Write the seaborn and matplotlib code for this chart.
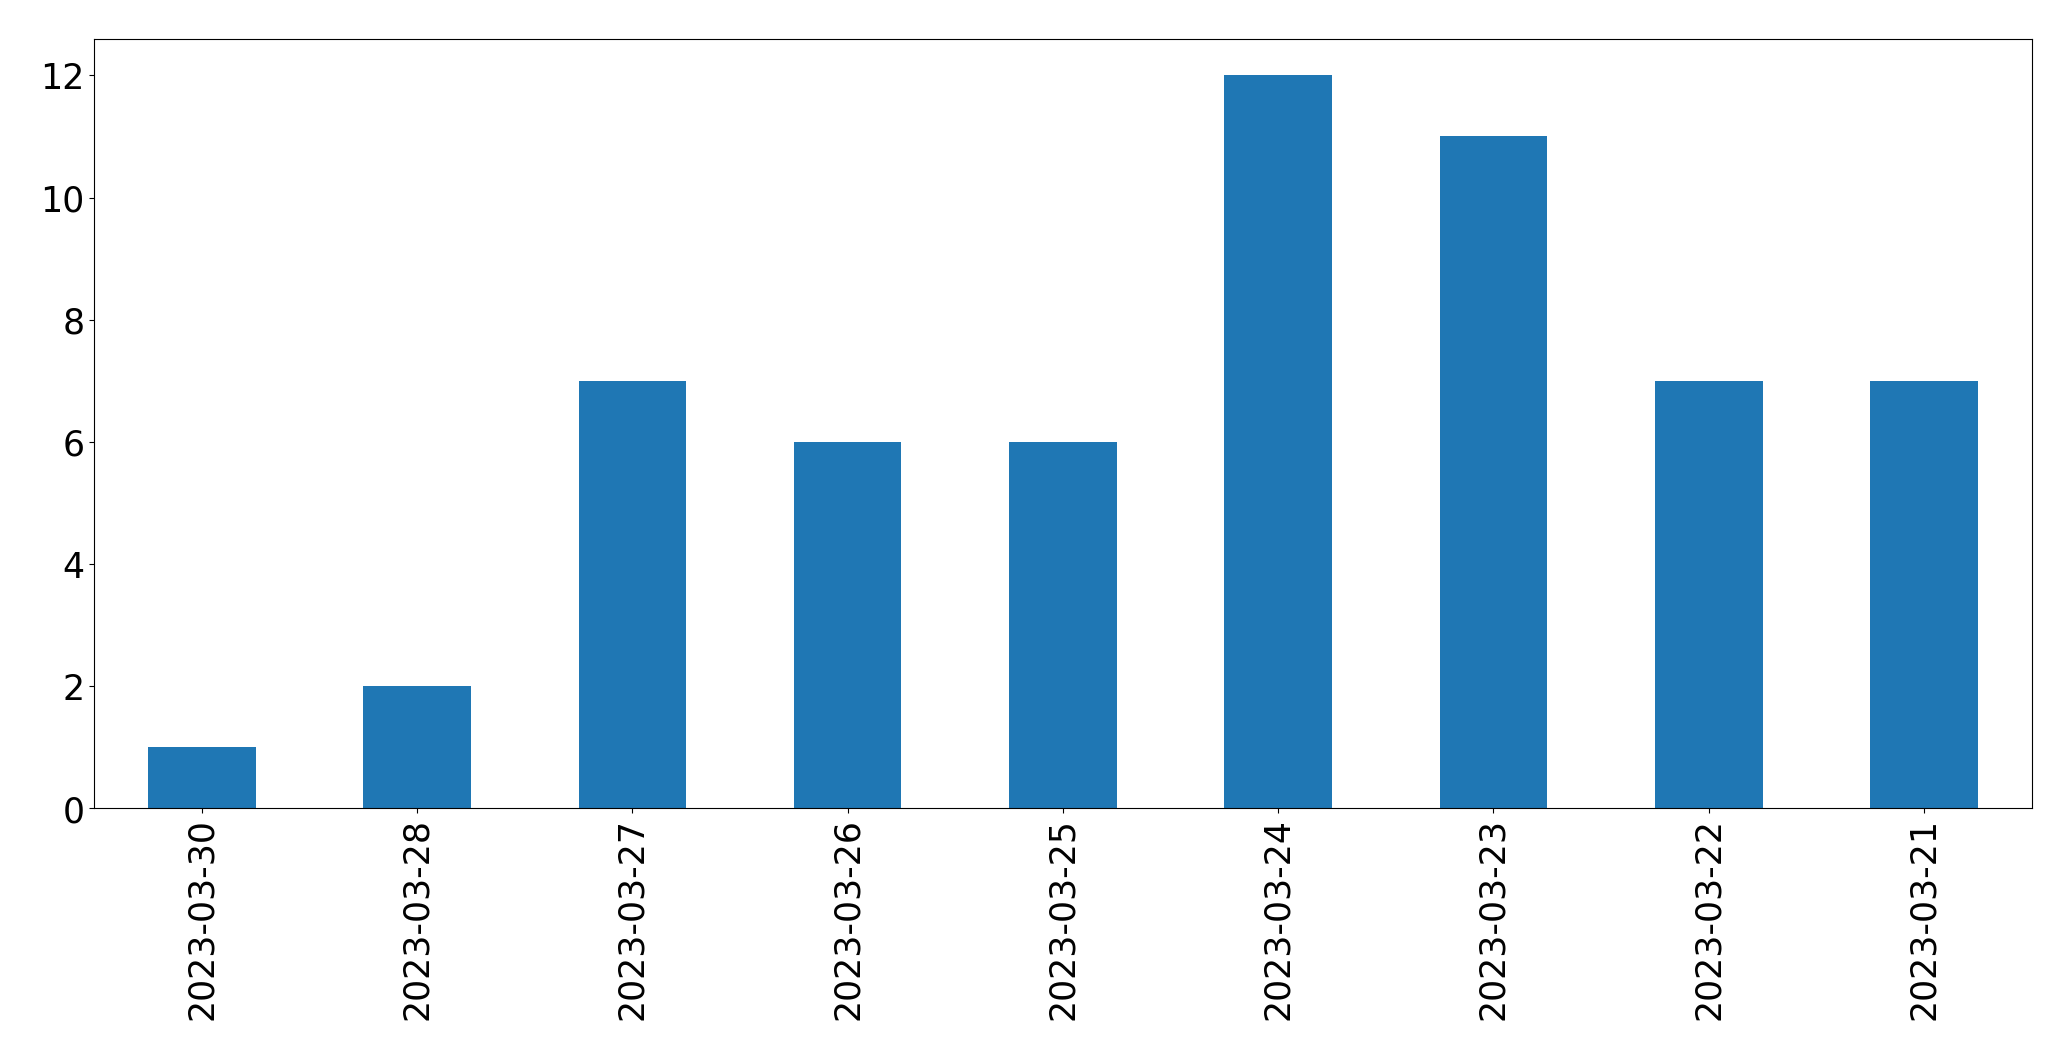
import matplotlib
matplotlib.use("Agg")
import matplotlib.pyplot as plt
import seaborn as sns
import pandas as pd

dates = ["2023-03-30", "2023-03-28", "2023-03-27", "2023-03-26", "2023-03-25",
         "2023-03-24", "2023-03-23", "2023-03-22", "2023-03-21"]
counts = [1, 2, 7, 6, 6, 12, 11, 7, 7]

df = pd.DataFrame({"date": dates, "count": counts})

fig = plt.figure(figsize=(20.71, 10.605), dpi=100)
ax = fig.add_axes([0.0455, 0.2375, 0.9355, 0.7255])

sns.barplot(data=df, x="date", y="count", order=dates, color="#1f77b4",
            saturation=1, width=0.5, ax=ax)

ax.set_xlim(-0.5, len(dates) - 0.5)
ax.set_ylim(0, max(counts) * 1.05)
ax.set_yticks([0, 2, 4, 6, 8, 10, 12])
ax.set_xlabel("")
ax.set_ylabel("")
ax.tick_params(axis="both", labelsize=25)
ax.tick_params(axis="x", labelrotation=90)

fig.savefig("out.png", dpi=100)
